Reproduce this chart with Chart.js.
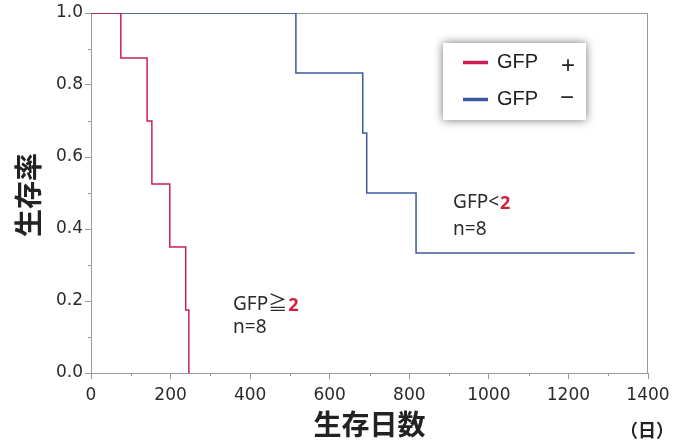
<!DOCTYPE html>
<html>
  <head>
    <meta charset="UTF-8" />
    <title>生存率</title>
    <script src="https://cdn.jsdelivr.net/npm/chart.js"></script>
    <style>
      html,
      body {
        margin: 0;
        padding: 0;
        background: #fff;
        overflow: hidden;
      }
      #km {
        display: block;
      }
    </style>
  </head>
  <body>
    <canvas id="km" width="681" height="441"></canvas>
    <script>
      // Kaplan-Meier steps (days, survival)
      const posDays = [0, 75, 141, 153, 198, 238, 246];
      const posSurv = [1.0, 0.875, 0.7, 0.525, 0.35, 0.175, 0.0];
      const negDays = [0, 515, 683, 693, 817, 1367];
      const negSurv = [1.0, 0.833, 0.667, 0.5, 0.333, 0.333];

      const xTicks = [0, 200, 400, 600, 800, 1000, 1200, 1400];
      const yTicks = [0.0, 0.2, 0.4, 0.6, 0.8, 1.0];

      const RED = "#cc2052";
      const BLUE = "#3a5a9c";
      const TXT = "#2a2a2a";
      const AXIS = "#999";
      const NUMFONT = '"DejaVu Sans", Verdana, sans-serif';
      const JPFONT = '"Noto Sans CJK JP", "Noto Sans", sans-serif';
      const LBLFONT = '"Noto Sans", "Noto Sans CJK JP", sans-serif';

      function toPoints(xs, ys) {
        return xs.map((x, i) => ({ x: x, y: ys[i] }));
      }
      const isMajorX = (v) => xTicks.includes(v);
      const isMajorY = (v) => yTicks.some((t) => Math.abs(t - v) < 1e-6);

      // frame, minor ticks, legend, annotations and axis titles
      const extras = {
        id: "extras",
        beforeDatasetsDraw(chart) {
          const ctx = chart.ctx;
          const a = chart.chartArea;
          ctx.save();
          ctx.strokeStyle = AXIS;
          ctx.lineWidth = 1;
          ctx.strokeRect(a.left + 0.5, a.top + 0.5, a.width - 1, a.height);
          // short minor ticks
          ctx.beginPath();
          chart.scales.x.ticks.forEach((t) => {
            if (isMajorX(t.value)) return;
            const px = Math.round(chart.scales.x.getPixelForValue(t.value)) + 0.5;
            ctx.moveTo(px, a.bottom);
            ctx.lineTo(px, a.bottom + 3);
          });
          chart.scales.y.ticks.forEach((t) => {
            if (isMajorY(t.value)) return;
            const py = Math.round(chart.scales.y.getPixelForValue(t.value)) + 0.5;
            ctx.moveTo(a.left, py);
            ctx.lineTo(a.left - 3, py);
          });
          ctx.stroke();
          ctx.restore();
        },
        afterDraw(chart) {
          const ctx = chart.ctx;
          const xs = chart.scales.x;
          const ys = chart.scales.y;
          ctx.save();

          // legend box
          ctx.save();
          ctx.shadowColor = "rgba(0,0,0,0.55)";
          ctx.shadowBlur = 9;
          ctx.fillStyle = "#fff";
          ctx.fillRect(443, 43, 143, 77);
          ctx.restore();
          ctx.lineWidth = 3.5;
          ctx.strokeStyle = RED;
          ctx.beginPath();
          ctx.moveTo(463, 62.5);
          ctx.lineTo(488, 62.5);
          ctx.stroke();
          ctx.strokeStyle = BLUE;
          ctx.beginPath();
          ctx.moveTo(463, 99.5);
          ctx.lineTo(488, 99.5);
          ctx.stroke();
          ctx.fillStyle = "#222";
          ctx.textBaseline = "middle";
          ctx.textAlign = "left";
          ctx.font = '20px "Liberation Sans", Arial, sans-serif';
          ctx.fillText("GFP", 497, 62);
          ctx.fillText("GFP", 497, 99);
          ctx.textAlign = "center";
          ctx.font = '24px "Liberation Sans", Arial, sans-serif';
          ctx.fillText("+", 568, 66);
          ctx.fillText("\u2212", 567, 98);

          // group annotations
          function label(day, surv, main, red) {
            const px = xs.getPixelForValue(day);
            const py = ys.getPixelForValue(surv);
            ctx.textAlign = "left";
            ctx.textBaseline = "middle";
            ctx.font = "19px " + LBLFONT;
            ctx.fillStyle = TXT;
            ctx.fillText(main, px, py);
            if (red) {
              const w = ctx.measureText(main).width;
              ctx.font = "bold 18px " + LBLFONT;
              ctx.fillStyle = "#d0203c";
              ctx.fillText(red, px + w + 1, py + 1);
            }
          }
          label(910, 0.472, "GFP<", "2");
          label(910, 0.397, "n=8");
          label(357, 0.189, "GFP\u2267", "2");
          label(357, 0.125, "n=8");

          // axis titles
          ctx.fillStyle = "#222";
          ctx.textAlign = "center";
          ctx.textBaseline = "middle";
          ctx.font = "bold 28px " + JPFONT;
          const a = chart.chartArea;
          ctx.fillText("生存日数", (a.left + a.right) / 2, 424);
          ctx.save();
          ctx.translate(28, (a.top + a.bottom) / 2 + 2);
          ctx.rotate(-Math.PI / 2);
          ctx.fillText("生存率", 0, 0);
          ctx.restore();
          ctx.font = "bold 18px " + JPFONT;
          ctx.fillText("（日）", 647, 430);

          ctx.restore();
        },
      };

      const ctx = document.getElementById("km").getContext("2d");
      const chart = new Chart(ctx, {
        type: "line",
        data: {
          datasets: [
            {
              label: "GFP +",
              data: toPoints(posDays, posSurv),
              borderColor: RED,
              borderWidth: 1.5,
              stepped: true,
              pointRadius: 0,
              fill: false,
            },
            {
              label: "GFP −",
              data: toPoints(negDays, negSurv),
              borderColor: BLUE,
              borderWidth: 1.5,
              stepped: true,
              pointRadius: 0,
              fill: false,
            },
          ],
        },
        options: {
          responsive: false,
          animation: false,
          devicePixelRatio: 1,
          layout: { padding: { top: 13, right: 33, left: 0, bottom: 0 } },
          plugins: {
            legend: { display: false },
            tooltip: { enabled: false },
          },
          scales: {
            x: {
              type: "linear",
              min: 0,
              max: 1400,
              afterFit: (s) => {
                s.height = 68;
              },
              afterBuildTicks: (s) => {
                const t = [];
                for (let v = 0; v <= 1400; v += 100) t.push({ value: v });
                s.ticks = t;
              },
              ticks: {
                autoSkip: false,
                maxRotation: 0,
                padding: 6,
                color: TXT,
                font: { family: NUMFONT, size: 17 },
                callback: (v) => (isMajorX(v) ? String(v) : ""),
              },
              grid: {
                drawOnChartArea: false,
                tickLength: 6,
                color: AXIS,
                tickColor: (c) =>
                  c.tick && isMajorX(c.tick.value) ? AXIS : "rgba(0,0,0,0)",
              },
              border: { color: AXIS },
            },
            y: {
              min: 0,
              max: 1,
              afterFit: (s) => {
                s.width = 91;
              },
              afterBuildTicks: (s) => {
                const t = [];
                for (let i = 0; i <= 10; i++) t.push({ value: i / 10 });
                s.ticks = t;
              },
              ticks: {
                autoSkip: false,
                padding: 2,
                color: TXT,
                font: { family: NUMFONT, size: 17 },
                callback: (v) => {
                  const hit = yTicks.find((t) => Math.abs(t - v) < 1e-6);
                  return hit === undefined ? "" : hit.toFixed(1);
                },
              },
              grid: {
                drawOnChartArea: false,
                tickLength: 6,
                color: AXIS,
                tickColor: (c) =>
                  c.tick && isMajorY(c.tick.value) ? AXIS : "rgba(0,0,0,0)",
              },
              border: { color: AXIS },
            },
          },
        },
        plugins: [extras],
      });
    </script>
  </body>
</html>
